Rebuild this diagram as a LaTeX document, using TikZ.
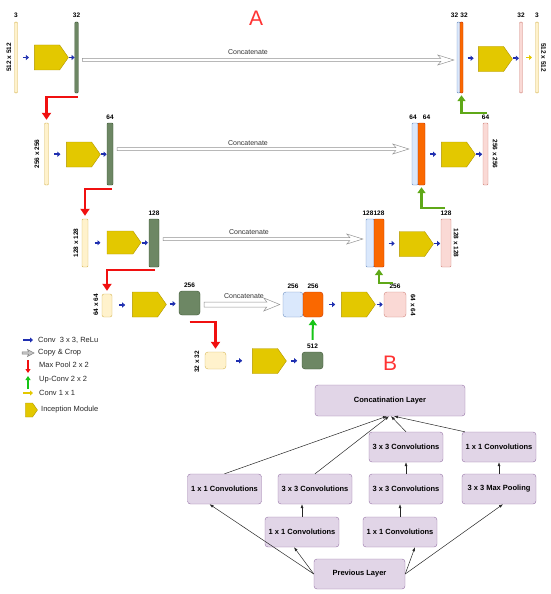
\documentclass[tikz,border=0pt]{standalone}
\usepackage{fontspec}
\setmainfont{Liberation Sans}
\usepackage{tikz}
\usetikzlibrary{shapes.symbols,arrows.meta,calc,positioning}

\definecolor{inyel}{HTML}{FFF2CC}
\definecolor{inyelD}{HTML}{D6B656}
\definecolor{encgrn}{HTML}{6D8764}
\definecolor{encgrnD}{HTML}{3A5431}
\definecolor{catblu}{HTML}{DAE8FC}
\definecolor{catbluD}{HTML}{6C8EBF}
\definecolor{uporg}{HTML}{FA6800}
\definecolor{uporgD}{HTML}{C73500}
\definecolor{outpnk}{HTML}{FAD9D5}
\definecolor{outpnkD}{HTML}{D0847C}
\definecolor{incyel}{HTML}{E3C800}
\definecolor{incyelD}{HTML}{B09500}
\definecolor{convblu}{HTML}{1F2FB0}
\definecolor{poolred}{HTML}{F01010}
\definecolor{upgrn}{HTML}{5FA818}
\definecolor{upgrnB}{HTML}{16C416}
\definecolor{lav}{HTML}{E1D5E7}
\definecolor{lavD}{HTML}{9673A6}
\definecolor{ttlred}{HTML}{FF3333}

\begin{document}
\begin{tikzpicture}[x=1pt, y=-1pt,
    blk/.style 2 args={draw, inner sep=0pt, minimum width=#1pt, minimum height=#2pt, rounded corners=1pt},
    inbar/.style={fill=inyel, draw=inyelD},
    encbar/.style={fill=encgrn, draw=encgrnD},
    catbar/.style={fill=catblu, draw=catbluD},
    upbar/.style={fill=uporg, draw=uporgD},
    outbar/.style={fill=outpnk, draw=outpnkD},
    incep/.style={signal, signal to=east, signal pointer angle=110, fill=incyel, draw=incyelD,
                  inner sep=0pt, minimum width=34pt, minimum height=25pt},
    num/.style={font=\bfseries\fontsize{6.5}{7}\selectfont, inner sep=0pt},
    ctxt/.style={font=\fontsize{7}{8}\selectfont, inner sep=0pt, text=black!80},
    leg/.style={font=\fontsize{7.5}{8}\selectfont, anchor=west, inner sep=0pt, text=black!85},
    ttl/.style={font=\fontsize{21}{24}\selectfont, text=ttlred, inner sep=0pt},
    convar/.style={draw=convblu, line width=1.8pt, -{Triangle[length=3pt,width=5pt]}},
    c1arr/.style={draw=incyel, line width=1.8pt, -{Triangle[length=3pt,width=5pt]}},
    pool/.style={draw=poolred, line width=2.5pt, -{Triangle[length=7pt,width=9pt]}, shorten >=3pt},
    upconv/.style={draw=upgrn, line width=2.5pt, -{Triangle[length=6pt,width=8pt]}, shorten >=2pt},
    cpcrop/.style={draw=gray!85, fill=white, line width=0.5pt},
    bbox/.style={draw=lavD, fill=lav, rounded corners=3pt, font=\bfseries\fontsize{7.5}{8}\selectfont,
                 inner sep=0pt, minimum height=30pt, minimum width=74pt},
    barr/.style={draw=black!85, line width=0.5pt, -{Latex[length=4pt,width=3pt]}},
]
\useasboundingbox (0,0) rectangle (550,594);

% === Level 1: 512 x 512 ===
\node[inbar, blk={3}{71}] (in1) at (16,57.5) {};
\node[incep] (inc1) at (47,57.5) {};
\node[encbar, blk={3.5}{71}] (enc1) at (76.5,57.5) {};
\node[catbar, blk={3}{71}] (cat1a) at (458.5,57.5) {};
\node[upbar, blk={3}{71}] (cat1b) at (461.5,57.5) {};
\node[incep] (dec1) at (491,59) {};
\node[outbar, blk={3}{71}] (out1) at (521,57.5) {};
\node[inbar, blk={3}{71}] (fin1) at (537,57.5) {};
\node[num, above=4pt of in1] (c0) {3};
\node[num, above=4pt of enc1] (c1) {32};
\node[num, above=4pt of cat1a, xshift=-4pt] (c1a) {32};
\node[num, above=4pt of cat1b, xshift=2.5pt] (c1b) {32};
\node[num, above=4pt of out1] (c1o) {32};
\node[num, above=4pt of fin1] (c0o) {3};
\node[num, rotate=90] (s1l) at (9,57.5) {512 x 512};
\node[num, rotate=-90] (s1r) at (543.5,57.5) {512 x 512};

% === Level 2: 256 x 256 ===
\node[inbar, blk={4}{62}] (in2) at (46.5,154) {};
\node[incep] (inc2) at (79,154.5) {};
\node[encbar, blk={6}{62}] (enc2) at (110,154) {};
\node[catbar, blk={6}{62}] (cat2a) at (415,154) {};
\node[upbar, blk={7}{62}] (cat2b) at (421.5,154) {};
\node[incep] (dec2) at (454,154.5) {};
\node[outbar, blk={5}{62}] (out2) at (485.5,154) {};
\node[num, above=3pt of enc2] (c2) {64};
\node[num, above=3pt of cat2a, xshift=-2pt] (c2a) {64};
\node[num, above=3pt of cat2b, xshift=5pt] (c2b) {64};
\node[num, above=3pt of out2] (c2o) {64};
\node[num, rotate=90] (s2l) at (37,154) {256 x 256};
\node[num, rotate=-90] (s2r) at (495,154) {256 x 256};

% === Level 3: 128 x 128 ===
\node[inbar, blk={6}{48}] (in3) at (85,243) {};
\node[incep, minimum height=23pt] (inc3) at (120,242.5) {};
\node[encbar, blk={10}{48}] (enc3) at (154,243) {};
\node[catbar, blk={8}{48}] (cat3a) at (370,243) {};
\node[upbar, blk={10}{48}] (cat3b) at (379,243) {};
\node[incep] (dec3) at (412,244) {};
\node[outbar, blk={10}{48}] (out3) at (446,243) {};
\node[num, above=3pt of enc3] (c3) {128};
\node[num, above=3pt of cat3a, xshift=-2pt] (c3a) {128};
\node[num, above=3pt of cat3b] (c3b) {128};
\node[num, above=3pt of out3] (c3o) {128};
\node[num, rotate=90] (s3l) at (76,243) {128 x 128};
\node[num, rotate=-90] (s3r) at (456,243) {128 x 128};

% === Level 4: 64 x 64 ===
\node[inbar, blk={10}{23}, rounded corners=2pt] (in4) at (107,305.5) {};
\node[incep] (inc4) at (145,304.5) {};
\node[encbar, blk={21}{24}, rounded corners=3pt] (enc4) at (189.5,303) {};
\node[catbar, blk={20}{25}, rounded corners=3pt] (cat4a) at (293,304.5) {};
\node[upbar, blk={20}{25}, rounded corners=3pt] (cat4b) at (313,304.5) {};
\node[incep] (dec4) at (354,304.5) {};
\node[outbar, blk={22}{25}, rounded corners=3pt] (out4) at (395,304.5) {};
\node[num, above=3pt of enc4] (c4) {256};
\node[num, above=3pt of cat4a] (c4a) {256};
\node[num, above=3pt of cat4b] (c4b) {256};
\node[num, above=3pt of out4] (c4o) {256};
\node[num, rotate=90] (s4l) at (96,305) {64 x 64};
\node[num, rotate=-90] (s4r) at (413,305) {64 x 64};

% === Level 5: 32 x 32 ===
\node[inbar, blk={21}{17}, rounded corners=3pt] (in5) at (215.5,360.5) {};
\node[incep] (inc5) at (265,361) {};
\node[encbar, blk={21}{17}, rounded corners=3pt] (bot5) at (312.5,360.5) {};
\node[num, above=3pt of bot5] (c5) {512};
\node[num, rotate=90] (s5l) at (197,362) {32 x 32};

% Conv 3x3 arrows
\foreach \a/\b in {in1/inc1, inc1/enc1, cat1b/dec1, dec1/out1,
                   in2/inc2, inc2/enc2, cat2b/dec2, dec2/out2,
                   in3/inc3, inc3/enc3, cat3b/dec3, dec3/out3,
                   in4/inc4, inc4/enc4, cat4b/dec4, dec4/out4,
                   in5/inc5, inc5/bot5}
    \draw[convar] ($(\a.east)!0.5!(\b.west)+(-3,0)$) -- ++(6,0);
\draw[c1arr] ($(out1.east)!0.5!(fin1.west)+(-3,0)$) -- ++(6,0);

% Copy & crop arrows
\foreach \a/\b/\dy/\w/\h in {enc1/cat1a/2.5/1.5/5, enc2/cat2a/-5/1.5/5,
                             enc3/cat3a/-4/1.5/5, enc4/cat4a/1.5/2.5/6.5} {
    \draw[cpcrop] let \p1=($(\a.east)+(4,\dy)$), \p2=($(\b.west)+(-3,\dy)$) in
        (\x1,\y1+\w*1pt) -- (\x2-13pt,\y1+\w*1pt) -- (\x2-16pt,\y1+\h*1pt) -- (\x2,\y1)
        -- (\x2-16pt,\y1-\h*1pt) -- (\x2-13pt,\y1-\w*1pt) -- (\x1,\y1-\w*1pt) -- cycle;
}
\node[ctxt] (ct1) at (248,52) {Concatenate};
\node[ctxt] (ct2) at (248,143) {Concatenate};
\node[ctxt] (ct3) at (249,232) {Concatenate};
\node[ctxt] (ct4) at (244,296) {Concatenate};

% Max pool arrows
\draw[pool] ($(enc1.south)+(1,4)$) -| (in2.north);
\draw[pool] ($(enc2.south)+(2,4)$) -| (in3.north);
\draw[pool] ($(enc3.south)+(1,3)$) -| (in4.north);
\draw[pool] ($(enc4.south)+(0,7)$) -| (in5.north);

% Up-conv arrows
\draw[upconv] ($(out2.north)+(1,-10)$) -| (cat1b.south);
\draw[upconv] ($(out3.north)+(-1,-11)$) -| (cat2b.south);
\draw[upconv] ($(out4.north)+(-2,-9)$) -| (cat3b.south);
\draw[upconv, draw=upgrnB, line width=2pt] ($(bot5.north)+(0,-12)$) -- (cat4b.south);

% Legend
\draw[convar] (23,340) -- (33,340);
\draw[cpcrop, fill=gray!45, draw=gray] (22,351.8) -- (28.5,351.8) -- (27.5,349.5) -- (34,353)
    -- (27.5,356.5) -- (28.5,354.2) -- (22,354.2) -- cycle;
\draw[pool, line width=1.8pt, shorten >=0pt, -{Triangle[length=4pt,width=5pt]}] (28,360) -- (28,373);
\draw[upconv, draw=upgrnB, line width=1.8pt, shorten >=0pt, -{Triangle[length=4pt,width=5pt]}] (28,389) -- (28,376);
\draw[c1arr] (23,393) -- (33,393);
\node[incep, minimum width=12pt, minimum height=14pt] (legi) at (29,410) {};
\node[leg] (leg1) at (38,340) {Conv\ \ 3 x 3, ReLu};
\node[leg] (leg2) at (38,353) {Copy \& Crop};
\node[leg] (leg3) at (39,365) {Max Pool 2 x 2};
\node[leg] (leg4) at (39,380) {Up-Conv 2 x 2};
\node[leg] (leg5) at (39,393) {Conv 1 x 1};
\node[leg] (leg6) at (41,410) {Inception Module};

% Titles
\node[ttl] (tA) at (256,18) {A};
\node[ttl] (tB) at (390,363) {B};

% === B: inception module ===
\node[bbox, minimum width=150pt, minimum height=31pt] (concat) at (390,400.5) {Concatination Layer};
\node[bbox] (r2a) at (406,447) {3 x 3 Convolutions};
\node[bbox] (r2b) at (499,447) {1 x 1 Convolutions};
\node[bbox] (r3a) at (224.5,489) {1 x 1 Convolutions};
\node[bbox] (r3b) at (315,489) {3 x 3 Convolutions};
\node[bbox] (r3c) at (406,489) {3 x 3 Convolutions};
\node[bbox] (r3d) at (499,489) {3 x 3 Max Pooling};
\node[bbox] (r4a) at (302,532) {1 x 1 Convolutions};
\node[bbox] (r4b) at (400,532) {1 x 1 Convolutions};
\node[bbox, minimum width=91pt] (prev) at (359.5,574) {Previous Layer};

\draw[barr] (prev.west) -- ($(r3a.south)+(-15,0)$);
\draw[barr] (prev.west) -- ($(r4a.south)+(-8,0)$);
\draw[barr] (prev.east) -- ($(r4b.south)+(15,0)$);
\draw[barr] (prev.east) -- ($(r3d.south)+(4,0)$);
\draw[barr] (r4a.north) -- (r4a.north |- r3b.south);
\draw[barr] (r4b.north) -- (r4b.north |- r3c.south);
\draw[barr] (r3c.north) -- (r3c.north |- r2a.south);
\draw[barr] (r3d.north) -- (r3d.north |- r2b.south);
\draw[barr] (r3a.north) -- ($(concat.south)+(-3,0)$);
\draw[barr] (r3b.north) -- ($(concat.south)+(-1,0)$);
\draw[barr] (r2a.north) -- ($(concat.south)+(1,0)$);
\draw[barr] ($(r2b.north west)+(3,0)$) -- ($(concat.south)+(4,0)$);

\end{tikzpicture}
\end{document}
